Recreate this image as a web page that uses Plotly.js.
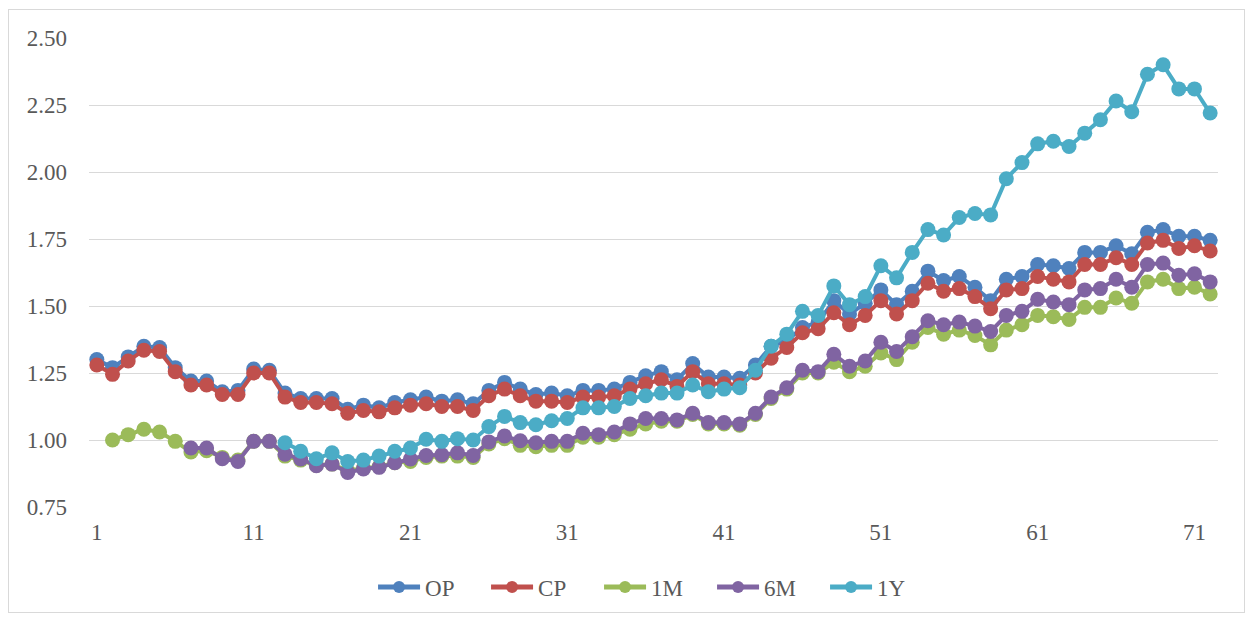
<!DOCTYPE html>
<html>
<head>
<meta charset="utf-8">
<script src="https://cdn.plot.ly/plotly-3.0.1.min.js"></script>
<style>
html,body{margin:0;padding:0;background:#fff;}
#chart{width:1252px;height:619px;}
#frame{position:absolute;left:8px;top:9px;width:1235px;height:602px;border:1px solid #d9d9d9;pointer-events:none;}
</style>
</head>
<body>
<div id="chart"></div>
<div id="frame"></div>
<script>
const categories = Array.from({length:72},(_,i)=>i+1);
const tickLabels = [1,11,21,31,41,51,61,71];
const seriesNames = ["OP","CP","1M","6M","1Y"];

const OP = [1.30,1.27,1.31,1.35,1.345,1.27,1.22,1.22,1.18,1.185,
  1.265,1.26,1.175,1.155,1.155,1.155,1.115,1.13,1.12,1.14,
  1.15,1.16,1.145,1.15,1.135,1.185,1.215,1.19,1.17,1.175,
  1.165,1.185,1.185,1.19,1.215,1.24,1.255,1.225,1.285,1.235,
  1.235,1.23,1.28,1.35,1.37,1.42,1.44,1.52,1.47,1.51,
  1.56,1.505,1.555,1.63,1.595,1.61,1.57,1.52,1.60,1.61,
  1.655,1.65,1.64,1.70,1.70,1.725,1.695,1.775,1.785,1.76,
  1.76,1.745];
const CP = [1.28,1.245,1.295,1.335,1.33,1.255,1.205,1.205,1.17,1.17,
  1.25,1.25,1.16,1.14,1.14,1.135,1.10,1.11,1.105,1.12,
  1.13,1.135,1.125,1.125,1.11,1.165,1.19,1.165,1.145,1.145,
  1.14,1.16,1.16,1.165,1.19,1.21,1.225,1.20,1.255,1.21,
  1.21,1.205,1.25,1.305,1.345,1.40,1.415,1.475,1.43,1.465,
  1.52,1.47,1.52,1.585,1.555,1.565,1.535,1.49,1.56,1.565,
  1.61,1.60,1.59,1.655,1.655,1.68,1.655,1.735,1.745,1.715,
  1.725,1.705];
const M1 = [null,1.00,1.02,1.04,1.03,0.995,0.955,0.96,0.935,0.925,
  0.995,0.995,0.94,0.925,0.905,0.91,0.885,0.895,0.90,0.915,
  0.92,0.935,0.94,0.94,0.935,0.985,1.005,0.98,0.975,0.98,
  0.98,1.01,1.01,1.02,1.04,1.06,1.07,1.07,1.095,1.06,
  1.06,1.055,1.095,1.155,1.19,1.25,1.25,1.29,1.255,1.275,
  1.325,1.30,1.365,1.42,1.395,1.41,1.39,1.355,1.41,1.43,
  1.465,1.46,1.45,1.495,1.495,1.53,1.51,1.59,1.60,1.565,
  1.57,1.545];
const M6 = [null,null,null,null,null,null,0.97,0.97,0.93,0.92,
  0.995,0.995,0.947,0.929,0.904,0.91,0.879,0.892,0.898,0.915,
  0.929,0.942,0.945,0.952,0.942,0.993,1.015,0.997,0.99,0.995,
  0.995,1.025,1.02,1.03,1.06,1.08,1.08,1.075,1.10,1.065,
  1.065,1.06,1.10,1.16,1.195,1.26,1.255,1.32,1.275,1.295,
  1.365,1.33,1.385,1.445,1.43,1.44,1.425,1.405,1.465,1.48,
  1.525,1.515,1.505,1.56,1.565,1.60,1.57,1.655,1.66,1.615,
  1.62,1.59];
const Y1 = [null,null,null,null,null,null,null,null,null,null,
  null,null,0.99,0.958,0.93,0.952,0.92,0.925,0.94,0.958,
  0.97,1.003,0.995,1.005,1.00,1.05,1.088,1.065,1.057,1.072,
  1.08,1.12,1.12,1.125,1.155,1.165,1.175,1.175,1.205,1.18,
  1.19,1.195,1.26,1.35,1.395,1.48,1.465,1.575,1.505,1.535,
  1.65,1.605,1.70,1.785,1.765,1.83,1.845,1.84,1.975,2.035,
  2.105,2.115,2.095,2.145,2.195,2.265,2.225,2.365,2.40,2.31,
  2.31,2.22];

const values = [OP, CP, M1, M6, Y1];
const colors = ["#4F81BD","#C0504D","#9BBB59","#8064A2","#4BACC6"];

const traces = seriesNames.map((name,i)=>({
  type:"scatter", mode:"lines+markers", name:name,
  x:categories, y:values[i],
  line:{color:colors[i], width:4},
  marker:{color:colors[i], size:15},
  connectgaps:false
}));

const fam = "'Liberation Serif', 'Times New Roman', serif";
const tickFont = {family:fam, size:23, color:"#595959"};

const layout = {
  width:1252, height:619,
  margin:{l:89, r:34, t:38, b:111},
  paper_bgcolor:"#fff", plot_bgcolor:"#fff",
  font:tickFont,
  showlegend:true,
  legend:{orientation:"h", x:0.2516, xanchor:"left", y:-0.168, yanchor:"middle",
    font:{family:fam, size:23, color:"#595959"},
    itemwidth:42, entrywidth:56, entrywidthmode:"pixels", itemsizing:"constant", traceorder:"normal"},
  xaxis:{range:[0.5,72.5], tickmode:"array", tickvals:tickLabels, ticktext:tickLabels.map(String),
    showgrid:false, zeroline:false, showline:false, ticks:"", ticklabelstandoff:9,
    tickfont:tickFont, fixedrange:true},
  yaxis:{range:[0.75,2.5], tickmode:"array", tickvals:[0.75,1.0,1.25,1.5,1.75,2.0,2.25,2.5],
    ticktext:["0.75","1.00","1.25","1.50","1.75","2.00","2.25","2.50"],
    showgrid:true, gridcolor:"#d9d9d9", gridwidth:1, zeroline:false, showline:false, ticks:"",
    ticklabelstandoff:21, tickfont:tickFont, fixedrange:true}
};

Plotly.newPlot("chart", traces, layout, {displayModeBar:false, staticPlot:true});
</script>
</body>
</html>
